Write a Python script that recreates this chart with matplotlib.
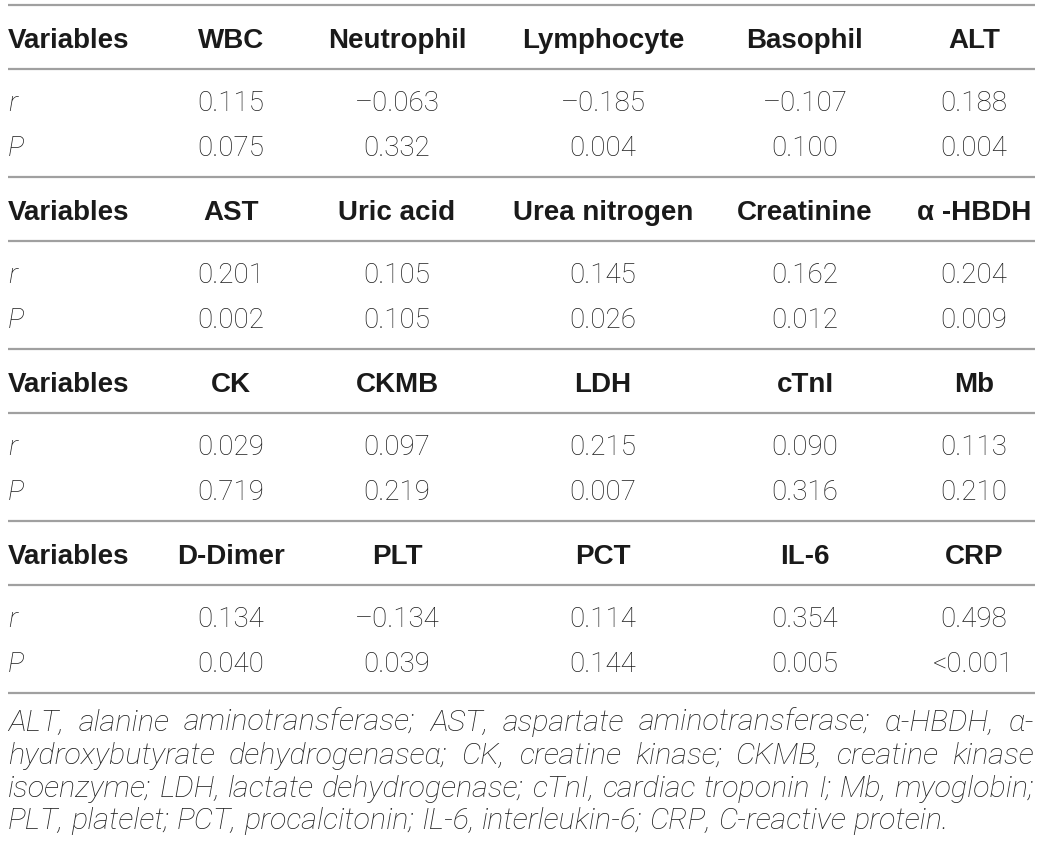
import matplotlib
matplotlib.use('Agg')
import matplotlib.pyplot as plt

# table content, four blocks of five variables
headers = [
    ['WBC', 'Neutrophil', 'Lymphocyte', 'Basophil', 'ALT'],
    ['AST', 'Uric acid', 'Urea nitrogen', 'Creatinine', '\u03b1 -HBDH'],
    ['CK', 'CKMB', 'LDH', 'cTnI', 'Mb'],
    ['D-Dimer', 'PLT', 'PCT', 'IL-6', 'CRP'],
]
r_values = [
    ['0.115', '\u20130.063', '\u20130.185', '\u20130.107', '0.188'],
    ['0.201', '0.105', '0.145', '0.162', '0.204'],
    ['0.029', '0.097', '0.215', '0.090', '0.113'],
    ['0.134', '\u20130.134', '0.114', '0.354', '0.498'],
]
p_values = [
    ['0.075', '0.332', '0.004', '0.100', '0.004'],
    ['0.002', '0.105', '0.026', '0.012', '0.009'],
    ['0.719', '0.219', '0.007', '0.316', '0.210'],
    ['0.040', '0.039', '0.144', '0.005', '<0.001'],
]
footnote_lines = [
    'ALT, alanine aminotransferase; AST, aspartate aminotransferase; \u03b1-HBDH, \u03b1-',
    'hydroxybutyrate dehydrogenase\u03b1; CK, creatine kinase; CKMB, creatine kinase',
    'isoenzyme; LDH, lactate dehydrogenase; cTnI, cardiac troponin I; Mb, myoglobin;',
    'PLT, platelet; PCT, procalcitonin; IL-6, interleukin-6; CRP, C-reactive protein.',
]

# layout (pixels)
W, H = 1042, 853
left, right = 8, 1035
col_x = [231, 397, 603, 805, 974]
block_top = 6
block_h = 172
rule_col = '#a0a0a0'
head_col = '#1a1a1a'
body_col = '#1e1e1e'

fig = plt.figure(figsize=(W / 100, H / 100), dpi=100)
ax = fig.add_axes([0, 0, 1, 1])
ax.set_xlim(0, W)
ax.set_ylim(H, 0)
ax.axis('off')

head_font = dict(family=['Liberation Sans', 'DejaVu Sans'], weight='bold', fontsize=20, color=head_col)
body_font = dict(family=['Roboto', 'DejaVu Sans'], weight='light', fontsize=20, color=body_col)

for b in range(len(headers)):
    top = block_top + b * block_h
    ax.hlines([top, top + 64], left, right, color=rule_col, lw=1.6)
    ax.text(left, top + 41.5, 'Variables', ha='left', va='baseline', **head_font)
    ax.text(left, top + 105, 'r', ha='left', va='baseline', style='italic', **body_font)
    ax.text(left, top + 150, 'P', ha='left', va='baseline', style='italic', **body_font)
    for j, x in enumerate(col_x):
        ax.text(x, top + 41.5, headers[b][j], ha='center', va='baseline', **head_font)
        ax.text(x, top + 105, r_values[b][j], ha='center', va='baseline', **body_font)
        ax.text(x, top + 150, p_values[b][j], ha='center', va='baseline', **body_font)
ax.hlines(block_top + len(headers) * block_h, left, right, color=rule_col, lw=1.6)

# justified footnote; size chosen so the last line ends near x=948
renderer = fig.canvas.get_renderer()
foot_font = dict(family=['Roboto', 'DejaVu Sans'], weight='light', style='italic', color=body_col)
probe = ax.text(0, 0, footnote_lines[-1], fontsize=20, **foot_font)
foot_size = 20 * 940 / probe.get_window_extent(renderer).width
probe.remove()
foot_font['fontsize'] = foot_size

foot_y = [731, 764, 797, 829]
for i, line in enumerate(footnote_lines):
    words = line.split(' ')
    texts = [ax.text(0, foot_y[i], w, ha='left', va='baseline', **foot_font) for w in words]
    widths = [t.get_window_extent(renderer).width for t in texts]
    if i < len(footnote_lines) - 1:
        gap = (right - 1 - left - sum(widths)) / (len(words) - 1)
    else:
        sp = ax.text(0, 0, 'a a', **foot_font)
        sp2 = ax.text(0, 0, 'aa', **foot_font)
        gap = sp.get_window_extent(renderer).width - sp2.get_window_extent(renderer).width
        sp.remove()
        sp2.remove()
    x = left
    for t, w in zip(texts, widths):
        t.set_x(x)
        x += w + gap

fig.savefig('out.png', dpi=100)
